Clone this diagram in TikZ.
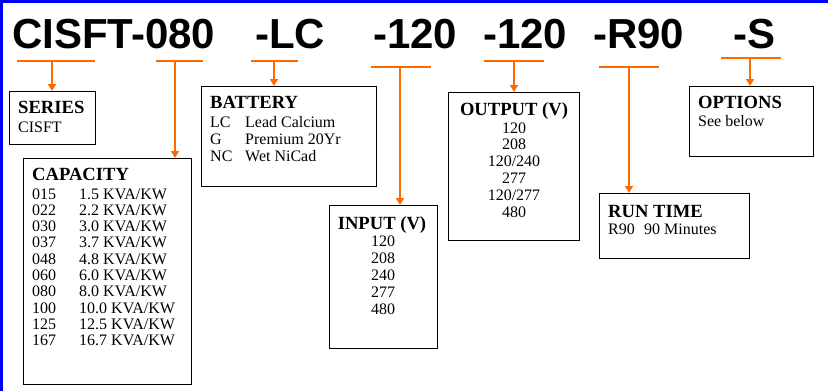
\documentclass[tikz,border=0pt]{standalone}
\usepackage{fontspec}
\setmainfont{Liberation Serif}
\newfontfamily\hdrfont{Liberation Sans}
\usetikzlibrary{arrows.meta}
\definecolor{orng}{RGB}{255,106,0}
\definecolor{bordblue}{RGB}{0,0,255}
\tikzset{
  hdr/.style={inner sep=0pt, anchor=base west, font=\hdrfont\bfseries\fontsize{42}{42}\selectfont},
  ttl/.style={inner sep=0pt, anchor=base west, font=\bfseries\fontsize{18.6}{18.6}\selectfont},
  ttlc/.style={ttl, anchor=base},
  txt/.style={inner sep=0pt, anchor=base west, font=\fontsize{16}{16}\selectfont},
  txtc/.style={txt, anchor=base},
  box/.style={draw=black, line width=1.2pt, anchor=north west, inner sep=0pt},
  obar/.style={draw=orng, line width=2pt},
  oarr/.style={draw=orng, line width=2pt, -{Triangle[length=7pt,width=8pt]}, shorten >=0pt},
}
\begin{document}
\begin{tikzpicture}[x=1pt,y=-1pt]
\useasboundingbox (0,0) rectangle (828,391);
\fill[white] (0,0) rectangle (828,391);
\draw[bordblue, line width=3pt] (1.5,391) -- (1.5,1.5) -- (828,1.5);

% header
\node[hdr] (h1) at (12,48) {CISFT-080};
\node[hdr] (h2) at (255,48) {-LC};
\node[hdr] (h3) at (373,48) {-120};
\node[hdr] (h4) at (483,48) {-120};
\node[hdr] (h5) at (593,48) {-R90};
\node[hdr] (h6) at (733,48) {-S};

% boxes
\node[box, minimum width=86pt, minimum height=53pt] (series) at (9,91) {};
\node[box, minimum width=168pt, minimum height=226pt] (capacity) at (23,158) {};
\node[box, minimum width=175pt, minimum height=100pt] (battery) at (201,86) {};
\node[box, minimum width=108pt, minimum height=143pt] (input) at (329,205) {};
\node[box, minimum width=131pt, minimum height=148pt] (output) at (448,92) {};
\node[box, minimum width=150pt, minimum height=65pt] (runtime) at (599,193) {};
\node[box, minimum width=124pt, minimum height=70pt] (options) at (689,86) {};

% series
\node[ttl] (seriesT) at (18,113) {SERIES};
\node[txt] (seriesV) at (18,132) {CISFT};

% capacity
\node[ttl] (capT) at (32,180) {CAPACITY};
\foreach \c/\v [count=\i] in {015/1.5,022/2.2,030/3.0,037/3.7,048/4.8,060/6.0,080/8.0,100/10.0,125/12.5,167/16.7}{
  \node[txt] (capa\i) at (32,{199+16.3*(\i-1)}) {\c};
  \node[txt] (capb\i) at (79,{199+16.3*(\i-1)}) {\v\ KVA/KW};
}

% battery
\node[ttl] (batT) at (210,108) {BATTERY};
\foreach \c/\v [count=\i] in {LC/Lead Calcium,G/Premium 20Yr,NC/Wet NiCad}{
  \node[txt] (bata\i) at (210,{127+17*(\i-1)}) {\c};
  \node[txt] (batb\i) at (245,{127+17*(\i-1)}) {\v};
}

% input
\node[ttlc] (inT) at (382,229) {INPUT (V)};
\foreach \v [count=\i] in {120,208,240,277,480}{
  \node[txtc] (inv\i) at (383,{246+17*(\i-1)}) {\v};
}

% output
\node[ttlc] (outT) at (514,115) {OUTPUT (V)};
\foreach \v [count=\i] in {120,208,120/240,277,120/277,480}{
  \node[txtc] (outv\i) at (514,{133+16.8*(\i-1)}) {\v};
}

% run time
\node[ttl] (rtT) at (608,217) {RUN TIME};
\node[txt] (rta) at (608,234) {R90};
\node[txt] (rtb) at (644,234) {90 Minutes};

% options
\node[ttl] (opT) at (698,108) {OPTIONS};
\node[txt] (opV) at (698,126) {See below};

% connectors
\coordinate (b1a) at (17,61);  \coordinate (b1b) at (95,61);  \coordinate (b1m) at (52,61);
\coordinate (b2a) at (156,61); \coordinate (b2b) at (203,61); \coordinate (b2m) at (175,61);
\coordinate (b3a) at (251,61); \coordinate (b3b) at (298,61); \coordinate (b3m) at (274,61);
\coordinate (b4a) at (371,67); \coordinate (b4b) at (431,67); \coordinate (b4m) at (400,67);
\coordinate (b5a) at (484,61); \coordinate (b5b) at (544,61); \coordinate (b5m) at (514,61);
\coordinate (b6a) at (599,67); \coordinate (b6b) at (659,67); \coordinate (b6m) at (629,67);
\coordinate (b7a) at (721,58); \coordinate (b7b) at (781,58); \coordinate (b7m) at (750,58);
\foreach \k in {1,...,7}{ \draw[obar] (b\k a) -- (b\k b); }
\draw[oarr] (b1m) -- (series.north -| b1m);
\draw[oarr] (b2m) -- (capacity.north -| b2m);
\draw[oarr] (b3m) -- (battery.north -| b3m);
\draw[oarr] (b4m) -- (input.north -| b4m);
\draw[oarr] (b5m) -- (output.north -| b5m);
\draw[oarr] (b6m) -- (runtime.north -| b6m);
\draw[oarr] (b7m) -- (options.north -| b7m);
\end{tikzpicture}
\end{document}
